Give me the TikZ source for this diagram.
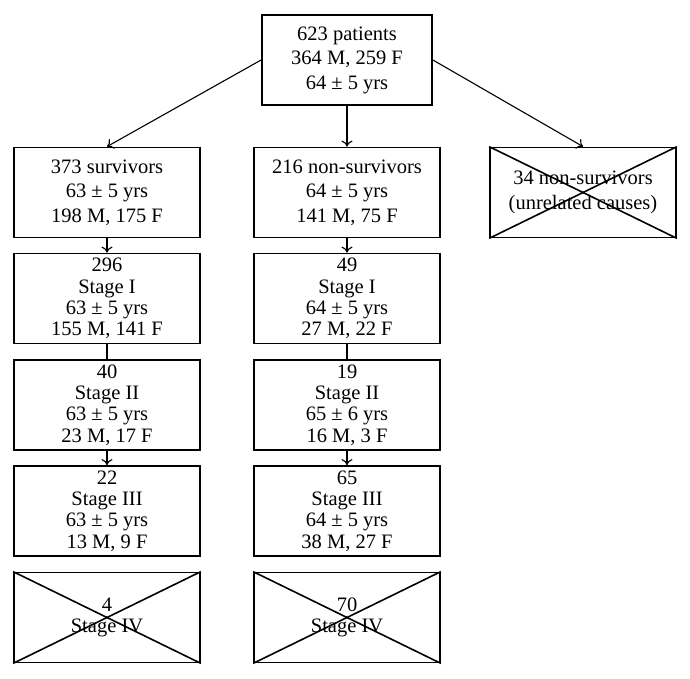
\documentclass[tikz,border=0pt]{standalone}
\usepackage{fontspec}
\setmainfont{Liberation Serif}
\usetikzlibrary{arrows.meta}
\begin{document}
\begin{tikzpicture}[x=1pt,y=-1pt,
  box/.style={draw, line width=1.8pt, minimum width=186pt, minimum height=90pt, inner sep=0pt, align=center, font=\fontsize{20.5}{21.3}\selectfont},
  box3/.style={box, font=\fontsize{20.5}{24.5}\selectfont},
  arr/.style={line width=1.1pt, -{To[length=6pt,width=11pt]}},
  ln/.style={line width=1.1pt},
  cross/.style={line width=1.6pt}]
\useasboundingbox (0,0) rectangle (690,679);
\fill[white] (0,0) rectangle (690,679);
\node[box3, minimum width=170pt] (top) at (347,60) {623 patients\\364 M, 259 F\\64 ± 5 yrs};
% left column
\node[box3] (s0) at (107,192.5) {373 survivors\\63 ± 5 yrs\\198 M, 175 F};
\node[box] (s1) at (107,298.5) {296\\Stage I\\63 ± 5 yrs\\155 M, 141 F};
\node[box] (s2) at (107,405) {40\\Stage II\\63 ± 5 yrs\\23 M, 17 F};
\node[box] (s3) at (107,511) {22\\Stage III\\63 ± 5 yrs\\13 M, 9 F};
\node[box] (s4) at (107,617.5) {4\\Stage IV};
% middle column
\node[box3] (n0) at (347,192.5) {216 non-survivors\\64 ± 5 yrs\\141 M, 75 F};
\node[box] (n1) at (347,298.5) {49\\Stage I\\64 ± 5 yrs\\27 M, 22 F};
\node[box] (n2) at (347,405) {19\\Stage II\\65 ± 6 yrs\\16 M, 3 F};
\node[box] (n3) at (347,511) {65\\Stage III\\64 ± 5 yrs\\38 M, 27 F};
\node[box] (n4) at (347,617.5) {70\\Stage IV};
% right
\node[box3] (u) at (583,192.5) {34 non-survivors\\(unrelated causes)};
% crosses
\foreach \n in {s4,n4,u}{
  \draw[cross] (\n.north west) -- (\n.south east);
  \draw[cross] (\n.south west) -- (\n.north east);
}
% connectors
\draw[arr] (top.west) -- (s0.north);
\draw[arr] (top.south) -- (n0.north);
\draw[arr] (top.east) -- (u.north);
\draw[arr] (s0.south) -- (s1.north);
\draw[ln] (s1.south) -- (s2.north);
\draw[arr] (s2.south) -- (s3.north);
\draw[arr] (n0.south) -- (n1.north);
\draw[ln] (n1.south) -- (n2.north);
\draw[arr] (n2.south) -- (n3.north);
\end{tikzpicture}
\end{document}
